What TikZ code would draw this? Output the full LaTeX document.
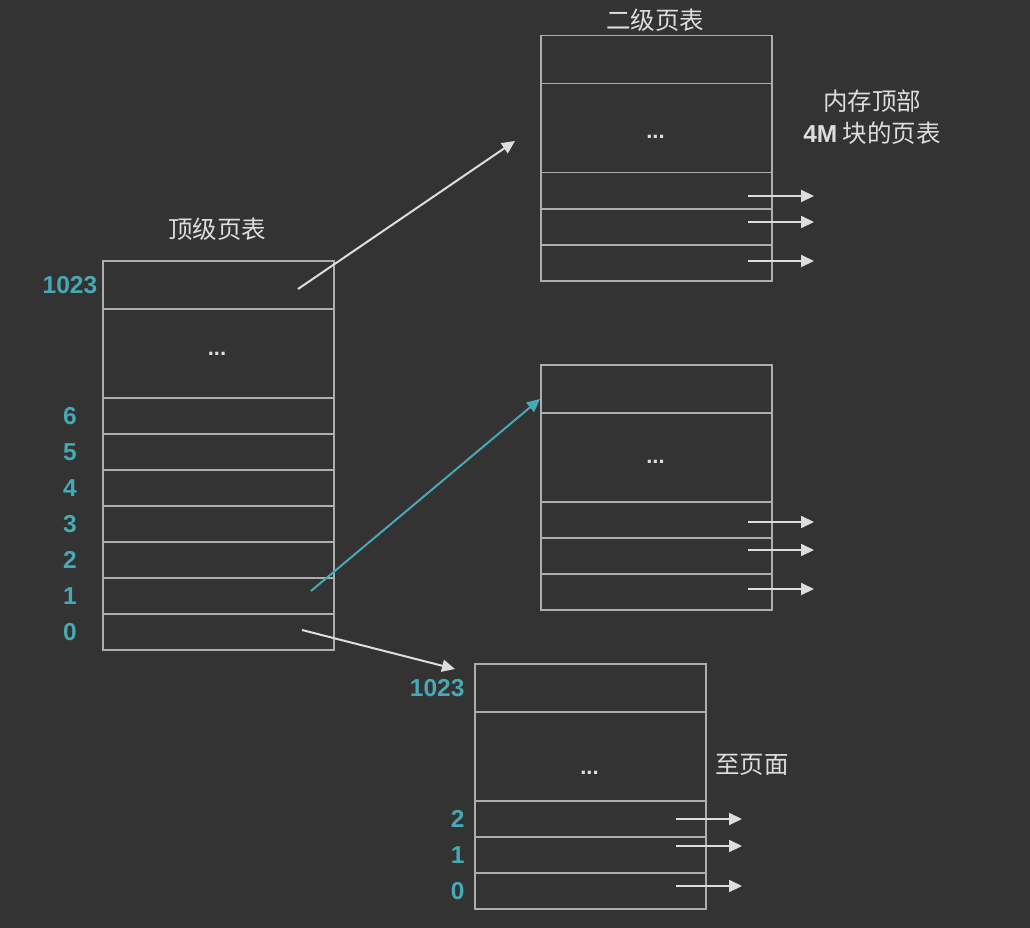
\documentclass[tikz,border=0pt]{standalone}
\usepackage{fontspec}
\setmainfont{Liberation Sans}
\newfontfamily\cjk{Noto Sans CJK SC}
\usetikzlibrary{arrows.meta}
\definecolor{bgdark}{HTML}{333333}
\definecolor{linegrey}{HTML}{ADADAD}
\definecolor{textgrey}{HTML}{DDDDDD}
\definecolor{idxteal}{HTML}{46A9B4}
\tikzset{
  cell/.style={draw=linegrey, line width=1.5pt, minimum width=231pt, inner sep=0pt, anchor=north west},
  idx/.style={text=idxteal, font=\fontsize{24.5}{26}\selectfont\bfseries},
  caption/.style={text=textgrey, font=\fontsize{24.5}{32}\selectfont\cjk, align=center},
  dots/.style={text=textgrey, font=\fontsize{22}{24}\selectfont\bfseries},
  ptr/.style={draw=textgrey, line width=2pt, -{Triangle[length=13pt,width=12pt]}},
}
\begin{document}
\begin{tikzpicture}[x=1pt,y=-1pt]
                    \fill[bgdark] (0,0) rectangle (1030,928);

                    % top level page table
                    \foreach \name/\top/\h in {r1023/260/48,rdots/308/89,r6/397/36,r5/433/36,r4/469/36,r3/505/36,r2/541/36,r1/577/36,r0/613/36}
                        \node[cell, minimum height=\h pt] (T-\name) at (102,\top) {};
                    \node[dots] at (217,354) {...};
                    \node[caption] (T-title) at (217,229) {顶级页表};
                    \foreach \name/\label in {r1023/1023,r6/6,r5/5,r4/4,r3/3,r2/2,r1/1,r0/0}
                        \node[idx] (T-\name-idx) at (70,0 |- T-\name) {\label};

                    % second level tables
                    \foreach \tab/\x/\y/\dy in {A/540/35/137,B/540/364/462,C/474/663/773} {
                        \node[cell, minimum height=48pt] (\tab-rtop) at (\x,\y) {};
                        \node[cell, minimum height=89pt] (\tab-rdots) at (\x,\y+48) {};
                        \node[cell, minimum height=36pt] (\tab-r2) at (\x,\y+137) {};
                        \node[cell, minimum height=36pt] (\tab-r1) at (\x,\y+173) {};
                        \node[cell, minimum height=36pt] (\tab-r0) at (\x,\y+209) {};
                        \node[dots] at (\x+115.5,\dy) {...};
                    }
                    \node[caption] (A-title) at (655,20) {二级页表};
                    \node[caption] (A-note) at (872,117) {内存顶部\\{\rmfamily\bfseries 4M} 块的页表};
                    \node[caption] (C-note) at (752,765) {至页面};
                    \node[idx, anchor=east] (C-rtop-idx) at (468,0 |- C-rtop) {1023};
                    \foreach \name/\label in {r2/2,r1/1,r0/0}
                        \node[idx, anchor=east] (C-\name-idx) at (468,0 |- C-\name) {\label};

                    % outgoing pointers
                    \foreach \tab/\x/\ya/\yb/\yc in {A/748/196/222/261,B/748/522/550/589,C/676/819/846/886} {
                        \coordinate (\tab-from2) at (\x,\ya);
                        \coordinate (\tab-from1) at (\x,\yb);
                        \coordinate (\tab-from0) at (\x,\yc);
                        \foreach \i in {2,1,0}
                            \draw[ptr] (\tab-from\i) -- ++(66,0);
                    }

                    % links from top level table
                    \coordinate (T-from1023) at (298,289);
                    \coordinate (T-from1) at (311,591);
                    \coordinate (T-from0) at (302,630);
                    \coordinate (A-in) at (515,141);
                    \coordinate (B-in) at (540,399);
                    \coordinate (C-in) at (455,669);
                    \draw[ptr] (T-from1023) -- (A-in);
                    \draw[ptr, draw=idxteal] (T-from1) -- (B-in);
                    \draw[ptr] (T-from0) -- (C-in);
\end{tikzpicture}
\end{document}
